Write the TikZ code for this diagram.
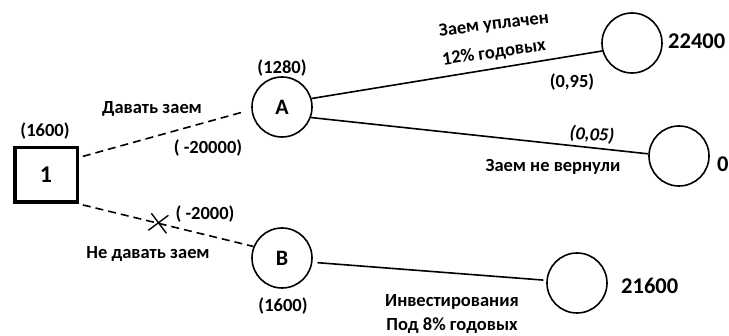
\documentclass[tikz,border=0pt]{standalone}
\usepackage{fontspec}
\setmainfont{Carlito}
\begin{document}
\begin{tikzpicture}[x=1pt,y=-1pt,
  lbl/.style={font=\bfseries\fontsize{18.5}{20}\selectfont, inner sep=0pt},
  outcome/.style={font=\bfseries\fontsize{22.5}{26}\selectfont, inner sep=0pt, anchor=west},
  chance/.style={circle, draw, line width=1.6pt, minimum size=60pt, inner sep=0pt, font=\bfseries\fontsize{22}{26}\selectfont},
  decision/.style={rectangle, draw, line width=3.5pt, minimum width=62.5pt, minimum height=54.5pt, inner sep=0pt, font=\bfseries\fontsize{24}{28}\selectfont},
  dashline/.style={dash pattern=on 8pt off 5pt, line width=1.6pt},
  solidline/.style={line width=1.6pt}]
\useasboundingbox (0,0) rectangle (729,336);
\clip (0,0) rectangle (729,336);

% nodes
\node[decision] (box) at (46,175) {1};
\node[chance] (A) at (282,107) {A};
\node[chance] (B) at (282,258) {B};
\node[chance] (C1) at (632,43) {};
\node[chance] (C2) at (679,156) {};
\node[chance] (C3) at (577,283) {};

% connectors
\draw[dashline, shorten <=4pt, shorten >=7pt] (box.28) -- (A.185);
\draw[dashline, shorten <=4pt] (box.south east) -- coordinate[pos=0.455] (xm) (B.158);
\draw[line width=1.4pt] ([shift={(-7,-10)}]xm) -- ([shift={(8,10)}]xm);
\draw[line width=1.4pt] ([shift={(10,-8)}]xm) -- ([shift={(-10,7)}]xm);
\draw[solidline] (A.16) -- (C1.195);
\draw[solidline] (A.-20) -- (C2.176);
\draw[solidline, shorten <=5pt, shorten >=3pt] (B.-8) -- (C3.175);

% labels
\node[lbl] (l1600) at (45,131) {(1600)};
\node[lbl] (l1280) at (282,68) {(1280)};
\node[lbl] (lB1600) at (283,306) {(1600)};
\node[lbl] (ldavat) at (152,109) {Давать заем};
\node[lbl] (l20000) at (208,148) {( -20000)};
\node[lbl] (l2000) at (205,214) {( -2000)};
\node[lbl] (lne) at (148,254) {Не давать заем};
\node[lbl, rotate=7] (lupl) at (494,25) {Заем уплачен};
\node[lbl, rotate=8] (l12) at (494,53) {12\% годовых};
\node[lbl] (l095) at (572,82) {(0,95)};
\node[lbl, rotate=-4] (l005) at (592,135) {\itshape(0,05)};
\node[lbl] (lnev) at (553,167) {Заем не вернули};
\node[lbl] (linv) at (452,302) {Инвестирования};
\node[lbl] (lpod) at (452,326) {Под 8\% годовых};

% outcomes
\node[outcome] (o1) at (668,41) {22400};
\node[outcome] (o2) at (717,164) {0};
\node[outcome] (o3) at (621,286) {21600};
\end{tikzpicture}
\end{document}
